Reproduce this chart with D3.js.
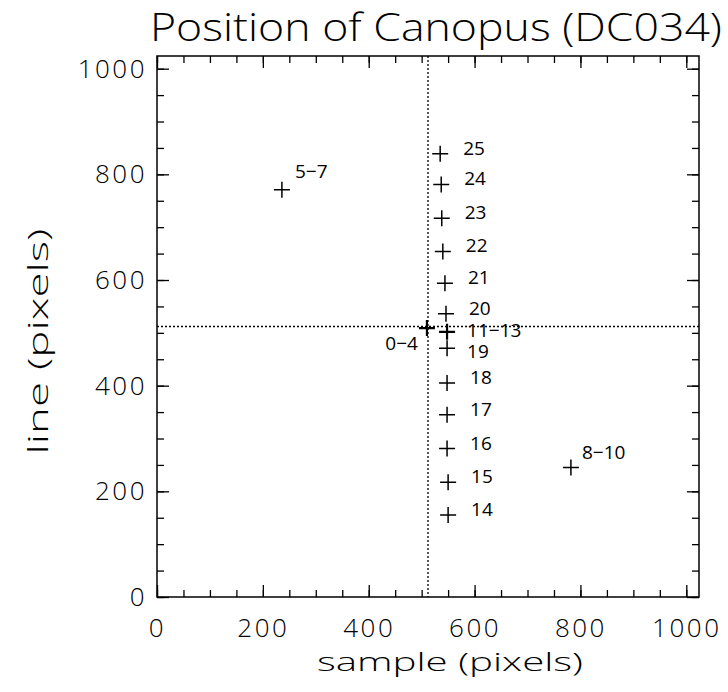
<!DOCTYPE html>
<html>
<head>
<script src="https://d3js.org/d3.v7.min.js"></script>
<style>
  body { margin: 0; background: white; }
  svg text { font-family: "Open Sans", "DejaVu Sans", sans-serif; font-weight: 300; fill: black; }
</style>
</head>
<body>
<svg id="chart"></svg>
<script>
// star position per group of frames (sample, line)
let groups = ["0-4", "5-7", "8-10", "11-13", "14", "15", "16", "17", "18", "19", "20", "21", "22", "23", "24", "25"];
let sampleVals = [510, 236, 782, 548, 550, 550, 548, 548, 548, 548, 546, 544, 540, 538, 537, 535];
let lineVals = [509, 771, 245, 502, 155, 217, 281, 345, 405, 471, 536, 594, 654, 717, 781, 839];
let centre = 512;           // image centre, dotted crosshair
let majorTicks = [0, 200, 400, 600, 800, 1000];
let minorTicks = d3.range(0, 1025, 50);

let width = 728, height = 692;
let margin = {top: 56, right: 29, bottom: 95, left: 157};
let bodyWidth = width - margin.left - margin.right;
let bodyHeight = height - margin.top - margin.bottom;

let svg = d3.select("#chart").attr("width", width).attr("height", height);

let x = d3.scaleLinear().domain([0, 1024]).range([0, bodyWidth]);
let y = d3.scaleLinear().domain([0, 1024]).range([bodyHeight, 0]);

let body = svg.append("g").attr("transform", `translate(${margin.left},${margin.top})`);

// axes on all four sides, ticks pointing inwards
function styleAxis(g) {
  g.select(".domain").remove();
  g.selectAll(".tick line").attr("stroke", "black").attr("stroke-width", 1.3);
  g.selectAll(".tick text").style("font-size", "26px").style("letter-spacing", "2.5px");
}
body.append("g").attr("transform", `translate(0,${bodyHeight})`)
  .call(d3.axisBottom(x).tickValues(minorTicks).tickSize(-7).tickFormat("")).call(styleAxis);
body.append("g").attr("transform", `translate(0,${bodyHeight})`)
  .call(d3.axisBottom(x).tickValues(majorTicks).tickSize(-12).tickPadding(22).tickFormat(d3.format("d")))
  .call(styleAxis);
body.append("g")
  .call(d3.axisTop(x).tickValues(minorTicks).tickSize(-7).tickFormat("")).call(styleAxis);
body.append("g")
  .call(d3.axisTop(x).tickValues(majorTicks).tickSize(-12).tickFormat("")).call(styleAxis);
body.append("g")
  .call(d3.axisLeft(y).tickValues(minorTicks).tickSize(-7).tickFormat("")).call(styleAxis);
body.append("g")
  .call(d3.axisLeft(y).tickValues(majorTicks).tickSize(-12).tickPadding(10).tickFormat(d3.format("d")))
  .call(styleAxis);
body.append("g").attr("transform", `translate(${bodyWidth},0)`)
  .call(d3.axisRight(y).tickValues(minorTicks).tickSize(-7).tickFormat("")).call(styleAxis);
body.append("g").attr("transform", `translate(${bodyWidth},0)`)
  .call(d3.axisRight(y).tickValues(majorTicks).tickSize(-12).tickFormat("")).call(styleAxis);

body.append("rect")
  .attr("width", bodyWidth).attr("height", bodyHeight)
  .attr("fill", "none").attr("stroke", "black").attr("stroke-width", 1.5);

// dotted crosshair through the image centre
body.append("line")
  .attr("x1", x(centre)).attr("x2", x(centre)).attr("y1", 0).attr("y2", bodyHeight)
  .attr("stroke", "black").attr("stroke-width", 1.3).attr("stroke-dasharray", "2,2");
body.append("line")
  .attr("x1", 0).attr("x2", bodyWidth).attr("y1", y(centre)).attr("y2", y(centre))
  .attr("stroke", "black").attr("stroke-width", 1.3).attr("stroke-dasharray", "2,2");

let points = groups.map((g, i) => ({name: g, sx: sampleVals[i], ly: lineVals[i]}));

body.selectAll(".star").data(points).enter().append("path")
  .attr("class", "star")
  .attr("transform", d => `translate(${x(d.sx)},${y(d.ly)})`)
  .attr("d", "M-8,0H8M0,-8V8")
  .attr("stroke", "black")
  .attr("stroke-width", d => d.name == "11-13" || d.name == "0-4" ? 2.2 : 1.5);

// label nudges (px) for the groups not in the right-hand column
function labelPos(d) {
  if (d.name == "0-4") return {dx: -9, dy: 22, anchor: "end"};
  if (d.name == "5-7") return {dx: 13, dy: -12, anchor: "start"};
  if (d.name == "8-10") return {dx: 11, dy: -9, anchor: "start"};
  if (d.name == "11-13") return {dx: 20, dy: 5, anchor: "start"};
  if (d.name == "19") return {dx: 20, dy: 10, anchor: "start"};
  return {dx: 23, dy: 1, anchor: "start"};
}

body.selectAll(".lab").data(points).enter().append("text")
  .attr("class", "lab")
  .attr("x", d => x(d.sx) + labelPos(d).dx)
  .attr("y", d => y(d.ly) + labelPos(d).dy)
  .attr("text-anchor", d => labelPos(d).anchor)
  .style("font-size", "19px")
  .style("font-weight", 400)
  .text(d => d.name.replace("-", "\u2212"));

svg.append("text")
  .attr("x", 436).attr("y", 41)
  .attr("text-anchor", "middle")
  .style("font-size", "39px")
  .attr("textLength", 572).attr("lengthAdjust", "spacingAndGlyphs")
  .text("Position of Canopus (DC034)");

svg.append("text")
  .attr("x", margin.left + bodyWidth / 2 + 22).attr("y", 671)
  .attr("text-anchor", "middle")
  .style("font-size", "26px")
  .attr("textLength", 266).attr("lengthAdjust", "spacingAndGlyphs")
  .text("sample (pixels)");

svg.append("text")
  .attr("transform", `translate(48,${margin.top + bodyHeight / 2 + 15}) rotate(-90)`)
  .attr("text-anchor", "middle")
  .style("font-size", "27px")
  .attr("textLength", 226).attr("lengthAdjust", "spacingAndGlyphs")
  .text("line (pixels)");
</script>
</body>
</html>
